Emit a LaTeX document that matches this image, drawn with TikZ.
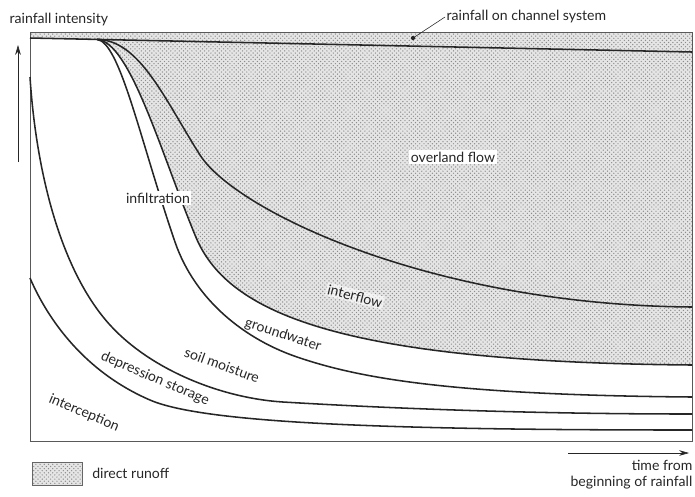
\documentclass[tikz,border=0pt]{standalone}
\usepackage{fontspec}
\setmainfont{Lato}
\usepackage{tikz}
\usetikzlibrary{patterns, arrows.meta, positioning}

\tikzset{
  flowline/.style={line width=1.1pt, black!85},
  runoff/.style={preaction={fill=black!10}, pattern=crosshatch dots, pattern color=black!45},
  lab/.style={font=\fontsize{10}{12}\selectfont, text=black!85, inner sep=1pt},
  axisarrow/.style={thin, black!85, -{Stealth[length=7pt, width=4pt]}}
}

\begin{document}
\begin{tikzpicture}[x=0.025cm, y=-0.025cm]
    \useasboundingbox (0,0) rectangle (695,496);

    % direct runoff: channel strip and everything above the groundwater line
    \fill[runoff] (30,32) -- (30,38) -- (97,39.4)
        .. controls (130,42) and (160,150) .. (195,235)
        .. controls (225,310) and (330,362) .. (692,365)
        -- (692,32) -- cycle;

    \draw[thin, black!65] (30,32) rectangle (692,441);
    \draw[flowline] (30,38) -- (692,52);

    % the five limits, top to bottom
    \draw[flowline] (97,39.4) .. controls (140,40) and (165,100) .. (200,155)
        .. controls (235,210) and (430,305) .. (692,307);
    \draw[flowline] (97,39.4) .. controls (130,42) and (160,150) .. (195,235)
        .. controls (225,310) and (330,362) .. (692,365);
    \draw[flowline] (97,39.4) .. controls (120,42) and (140,140) .. (175,242)
        .. controls (195,300) and (245,340) .. (300,358)
        .. controls (360,378) and (450,395) .. (692,397);
    \draw[flowline] (30,77) .. controls (36,170) and (60,270) .. (110,325)
        .. controls (150,369) and (220,398) .. (283,402)
        .. controls (350,406) and (500,414) .. (692,414);
    \draw[flowline] (30,278) .. controls (48,320) and (85,372) .. (150,400)
        .. controls (205,424) and (400,430) .. (692,430);

    % axes
    \coordinate (ybot) at (18,162);
    \coordinate (ytop) at (18,45);
    \draw[axisarrow] (ybot) -- (ytop);
    \coordinate (xleft) at (568,453);
    \coordinate (xright) at (689,453);
    \draw[axisarrow] (xleft) -- (xright);

    \node[lab, anchor=west] (rin) at (8,20) {rainfall intensity};
    \node[lab, anchor=north east, align=right] (time) at (694,458) {time from\\beginning of rainfall};

    \node[lab, anchor=west] (chan) at (445,17) {rainfall on channel system};
    \coordinate (dot) at (413,38);
    \fill[black!85] (dot) circle (1.5pt);
    \draw[thin, black!85] (chan.west) -- (dot);

    \node[lab, fill=white] (over) at (453,157) {overland flow};
    \node[lab, fill=white] (infil) at (158,198) {infiltration};
    \node[lab, fill=white, fill opacity=0.6, text opacity=1, rotate=-14] (inter) at (355,296) {interflow};
    \node[lab, rotate=-18] (gw) at (283,335) {groundwater};
    \node[lab, rotate=-20] (soil) at (222,365) {soil moisture};
    \node[lab, rotate=-23] (dep) at (155,379) {depression storage};
    \node[lab, rotate=-23] (icpt) at (84,413) {interception};

    % key
    \node[runoff, draw=black!60, thin, minimum width=1.25cm, minimum height=0.575cm, anchor=north west] (key) at (32,462) {};
    \node[lab, right=0.2cm of key] (keytext) {direct runoff};
\end{tikzpicture}
\end{document}
